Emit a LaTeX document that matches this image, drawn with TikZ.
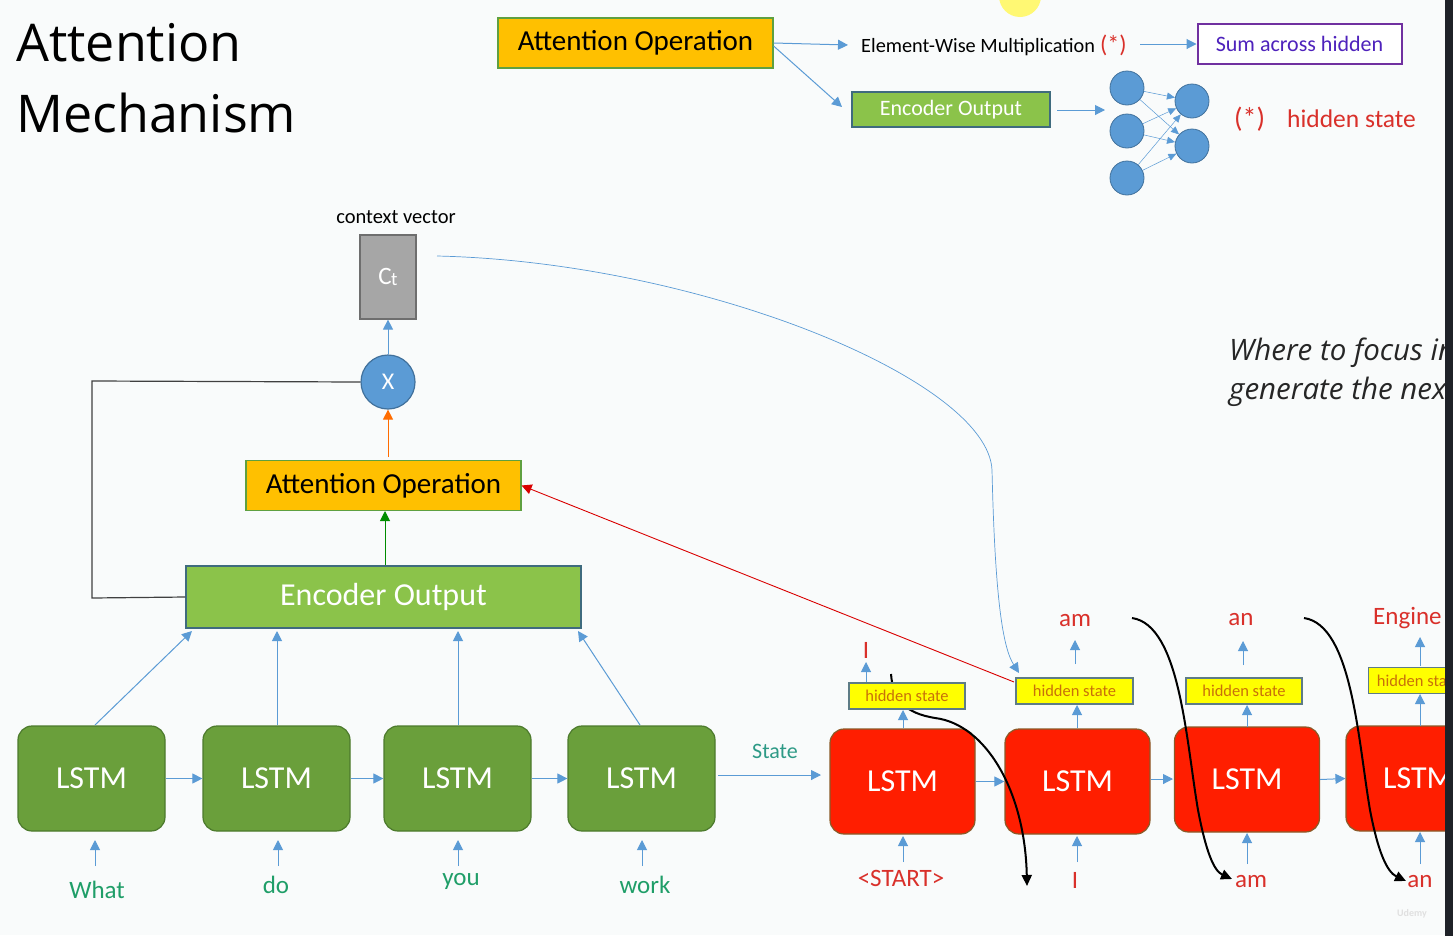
\documentclass[tikz,border=0pt]{standalone}
\usepackage{fontspec}
\setmainfont{Carlito}
\newfontfamily\titlefont{Open Sans}
\usetikzlibrary{arrows.meta}
\definecolor{bgc}{HTML}{F9FBFB}
\definecolor{orng}{HTML}{FFC000}
\definecolor{orngb}{HTML}{5FA040}
\definecolor{encg}{HTML}{8BC34A}
\definecolor{encb}{HTML}{3F6B7E}
\definecolor{lstmg}{HTML}{6A9F3B}
\definecolor{lstmgb}{HTML}{4C7A2C}
\definecolor{lstmr}{HTML}{FF1E00}
\definecolor{lstmrb}{HTML}{8A5A28}
\definecolor{arrb}{HTML}{5B9BD5}
\definecolor{circb}{HTML}{41719C}
\definecolor{hsy}{HTML}{FFFF00}
\definecolor{hsb}{HTML}{5E7C86}
\definecolor{hst}{HTML}{C8700A}
\definecolor{redt}{HTML}{D9302A}
\definecolor{greent}{HTML}{1F9E68}
\definecolor{statet}{HTML}{2E9A86}
\definecolor{purp}{HTML}{7030A0}
\definecolor{greyc}{HTML}{A6A6A6}
\definecolor{greycb}{HTML}{6E6E6E}
\definecolor{strip}{HTML}{1F2228}
\tikzset{
  tip/.style={-{Triangle[width=10pt,length=10pt]}},
  barrow/.style={tip, draw=arrb, line width=1pt},
  attnbox/.style={draw=orngb, line width=1.2pt, fill=orng, font=\fontsize{29}{32}\selectfont, text=black, minimum width=275pt, minimum height=50pt, inner sep=0pt},
  encbox/.style={draw=encb, line width=1.2pt, fill=encg, text=white, inner sep=0pt},
  glstm/.style={draw=lstmgb, line width=1.2pt, fill=lstmg, rounded corners=14pt, text=white, font=\fontsize{32}{34}\selectfont, minimum width=147pt, minimum height=105pt, inner sep=0pt},
  rlstm/.style={draw=lstmrb, line width=1.2pt, fill=lstmr, rounded corners=14pt, text=white, font=\fontsize{32}{34}\selectfont, minimum width=145pt, minimum height=105pt, inner sep=0pt},
  hsbox/.style={draw=hsb, line width=1.2pt, fill=hsy, text=hst, font=\fontsize{16.5}{18}\selectfont, minimum width=116pt, minimum height=26pt, inner sep=0pt},
  neuron/.style={circle, draw=circb, line width=0.8pt, fill=arrb, minimum width=32pt, minimum height=34pt, inner sep=0pt},
  redword/.style={text=redt, font=\fontsize{25}{27}\selectfont, inner sep=0pt},
  grword/.style={text=greent, font=\fontsize{25}{27}\selectfont, inner sep=0pt},
  blackcurve/.style={-{Triangle[width=10pt,length=11pt]}, draw=black, line width=2pt},
}
\begin{document}
\begin{tikzpicture}[x=1pt,y=-1pt]
\useasboundingbox (0,0) rectangle (1453,935);
\fill[bgc] (0,0) rectangle (1453,935);
% cursor highlight
\fill[yellow!55!white] (1020,-4) circle (21);

% title
\node[anchor=west, inner sep=0pt, font=\titlefont\fontsize{52}{56}\selectfont] (t1) at (16,43) {Attention};
\node[anchor=west, inner sep=0pt, font=\titlefont\fontsize{52}{56}\selectfont] (t2) at (16,113) {Mechanism};

% top-right legend
\node[attnbox] (ao1) at (635.5,43) {Attention Operation};
\node[anchor=west, inner sep=0pt, font=\fontsize{20.3}{22}\selectfont] (ewm) at (861,47) {Element-Wise Multiplication};
\node[anchor=west, inner sep=0pt, text=redt, font=\fontsize{24}{26}\selectfont] (ast1) at (1100,45) {(*)};
\node[draw=purp, line width=2pt, fill=white, text=purp!70!blue, font=\fontsize{22}{24}\selectfont, minimum width=204pt, minimum height=40pt, inner sep=0pt] (sah) at (1299.5,44) {Sum across hidden};
\node[encbox, minimum width=198pt, minimum height=35pt, font=\fontsize{22}{24}\selectfont] (eo1) at (951,109.5) {Encoder Output};
\coordinate (ewmin) at (848,45);
\coordinate (eoin) at (842,107);
\draw[barrow] (ao1.east) -- (ewmin);
\draw[barrow] ([yshift=-3pt]ao1.east) -- (eoin);
\draw[barrow] (1140,44) -- (sah.west);
\node[neuron] (n1) at (1127,88) {};
\node[neuron] (n2) at (1127,131) {};
\node[neuron] (n3) at (1127,178) {};
\node[neuron] (m1) at (1192,101) {};
\node[neuron] (m2) at (1192,146) {};
\coordinate (eo1out) at (1057,110);
\coordinate (netin) at (1105,110);
\draw[barrow] (eo1out) -- (netin);
\foreach \a in {n1,n2,n3}{
  \foreach \b in {m1,m2}{
    \draw[-{Triangle[width=7pt,length=8pt]}, draw=arrb, line width=0.5pt] (\a) -- (\b);
  }
}
\node[anchor=west, inner sep=0pt, text=redt, font=\fontsize{28}{30}\selectfont] (ast2) at (1234,119) {(*)};
\node[anchor=west, inner sep=0pt, text=redt, font=\fontsize{25.5}{27}\selectfont] (hst) at (1287,119) {hidden state};

% italic note
\node[anchor=west, inner sep=0pt, font=\titlefont\itshape\fontsize{29.5}{31}\selectfont, text=black!85] (w1) at (1229,353) {Where to focus in};
\node[anchor=west, inner sep=0pt, font=\titlefont\itshape\fontsize{29.5}{31}\selectfont, text=black!85] (w2) at (1229,392) {generate the next};

% context vector
\node[inner sep=0pt, font=\fontsize{20.5}{22}\selectfont] (cvl) at (396,217) {context vector};
\node[draw=greycb, line width=1.2pt, fill=greyc, text=white, font=\fontsize{25}{27}\selectfont, minimum width=56pt, minimum height=84pt, inner sep=0pt] (ct) at (388,277) {C\kern-0.5pt\raisebox{-1pt}{\fontsize{19}{20}\selectfont t}};
\node[circle, draw=circb, line width=1.2pt, fill=arrb, text=white, font=\fontsize{24}{26}\selectfont, minimum size=54pt, inner sep=0pt] (mul) at (388,382) {X};
\node[attnbox] (ao2) at (383.5,485.5) {Attention Operation};
\node[encbox, minimum width=395pt, minimum height=62pt, font=\fontsize{32}{34}\selectfont] (eo2) at (383.5,597) {Encoder Output};

\draw[barrow] (mul.north) -- (ct.south);
\coordinate (ao2top) at (388,457);
\draw[tip, draw=orange!85!red, line width=1pt] (ao2top) -- (mul.south);
\coordinate (eo2top) at (385,565);
\coordinate (ao2bot) at (385,511);
\draw[tip, draw=green!55!black, line width=1pt] (eo2top) -- (ao2bot);
\draw[draw=black!75, line width=1.2pt] (mul.west) -- (92,381) -- (92,598) -- (eo2.west);

% encoder LSTMs
\node[glstm] (g1) at (91.5,778.5) {LSTM};
\node[glstm] (g2) at (276.5,778.5) {LSTM};
\node[glstm] (g3) at (457.5,778.5) {LSTM};
\node[glstm] (g4) at (641.5,778.5) {LSTM};
\draw[barrow] (g1.east) -- (g2.west);
\draw[barrow] (g2.east) -- (g3.west);
\draw[barrow] (g3.east) -- (g4.west);
\draw[barrow] (95,725) -- (192,631);
\draw[barrow] (277,725) -- (277,631);
\draw[barrow] (458,725) -- (458,631);
\draw[barrow] (640,725) -- (578,631);
\node[grword] (iw1) at (97,890) {What};
\node[grword] (iw2) at (276,885) {do};
\node[grword] (iw3) at (461,881) {you};
\node[grword] (iw4) at (645,885) {work};
\draw[barrow] (95,866) -- (95,840);
\draw[barrow] (278,866) -- (278,840);
\draw[barrow] (458,866) -- (458,840);
\draw[barrow] (642,866) -- (642,840);
\node[text=statet, inner sep=0pt, font=\fontsize{22}{24}\selectfont] (st) at (775,751) {State};

% decoder LSTMs
\node[rlstm] (r1) at (902.5,781.5) {LSTM};
\node[rlstm] (r2) at (1077.5,781.5) {LSTM};
\node[rlstm] (r3) at (1247,779.5) {LSTM};
\node[rlstm] (r4) at (1418.5,778.5) {LSTM};
\coordinate (g4out) at (718,775);
\coordinate (r1in) at (821,775);
\draw[barrow] (g4out) -- (r1in);
\draw[barrow] (r1.east) -- (r2.west);
\draw[barrow] (1151,779) -- (1173,779);
\draw[barrow] (r3.east) -- (r4.west);

% black curves
\coordinate (c1s) at (891,674);
\coordinate (c1e) at (1027,886);
\coordinate (c2s) at (1132,618);
\coordinate (c2e) at (1232,879);
\coordinate (c3s) at (1304,618);
\coordinate (c3e) at (1406,881);
\draw[blackcurve] (c1s) .. controls (893,700) and (905,713) .. (935,718) .. controls (985,724) and (1025,790) .. (c1e);
\draw[blackcurve] (c2s) .. controls (1180,625) and (1186,740) .. (1198,810) .. controls (1206,852) and (1214,871) .. (c2e);
\draw[blackcurve] (c3s) .. controls (1352,625) and (1358,740) .. (1370,810) .. controls (1378,852) and (1387,872) .. (c3e);

% hidden states
\node[hsbox] (h1) at (907,696) {hidden state};
\node[hsbox, minimum width=117pt] (h2) at (1074.5,691) {hidden state};
\node[hsbox] (h3) at (1244,691) {hidden state};
\node[hsbox, minimum width=100pt, anchor=west] (h4) at (1368,680.5) {hidden state};
\draw[barrow] (903,728) -- (903,710);
\draw[barrow] (1077,728) -- (1077,705);
\draw[barrow] (1247,727) -- (1247,705);
\draw[barrow] (1420,726) -- (1420,694);

\node[redword] (o1) at (866,650) {I};
\node[redword] (o2) at (1075,621) {am};
\node[redword] (o3) at (1241,620) {an};
\node[redword, anchor=west] (o4) at (1373,618) {Engine};
\draw[barrow] (866,682) -- (866,662);
\draw[barrow] (1075,664) -- (1075,640);
\draw[barrow] (1243,665) -- (1243,641);
\draw[barrow] (1420,666) -- (1420,637);

\node[redword] (d1) at (901,878) {<START>};
\node[redword] (d2) at (1075,880) {I};
\node[redword] (d3) at (1251,882) {am};
\node[redword] (d4) at (1420,882) {an};
\draw[barrow] (903,862) -- (903,836);
\draw[barrow] (1077,862) -- (1077,836);
\draw[barrow] (1247,864) -- (1247,833);
\draw[barrow] (1420,864) -- (1420,832);

% attention connectors
\coordinate (redst) at (1014,682);
\draw[tip, draw=red!85!black, line width=0.9pt] (redst) -- (ao2.east);
\coordinate (blst) at (437,256);
\coordinate (blen) at (1019,673);
\draw[barrow, line width=0.7pt] (blst) .. controls (700,262) and (988,380) .. (992,470) .. controls (995,600) and (1003,648) .. (blen);

% watermark
\node[text=black!12, inner sep=0pt, font=\fontsize{10}{11}\selectfont\bfseries] (wm) at (1412,914) {Udemy};

% right dark strip
\fill[strip] (1445,0) rectangle (1460,940);
\end{tikzpicture}
\end{document}
